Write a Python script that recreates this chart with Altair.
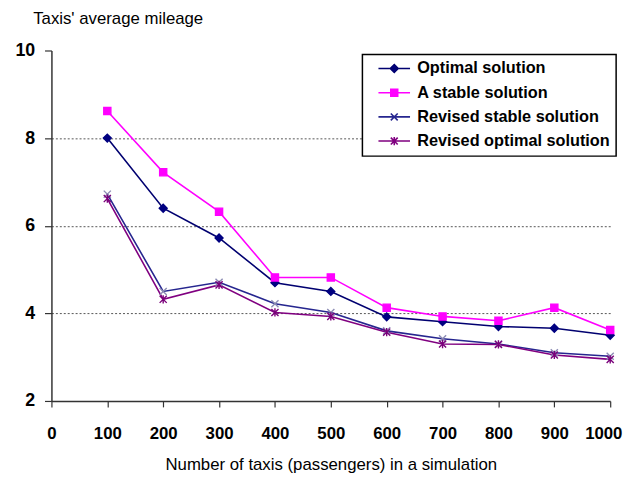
import altair as alt
import pandas as pd

# ---- data ----
x_values = [100, 200, 300, 400, 500, 600, 700, 800, 900, 1000]
series_names = ["Optimal solution", "A stable solution",
                "Revised stable solution", "Revised optimal solution"]
optimal = [8.0, 6.4, 5.72, 4.7, 4.5, 3.92, 3.81, 3.7, 3.66, 3.5]
stable = [8.62, 7.22, 6.32, 4.82, 4.82, 4.13, 3.93, 3.83, 4.13, 3.62]
rev_stable = [6.72, 4.5, 4.71, 4.22, 4.02, 3.6, 3.42, 3.3, 3.1, 3.02]
rev_optimal = [6.62, 4.32, 4.65, 4.02, 3.93, 3.57, 3.3, 3.29, 3.05, 2.95]
x_ticks = [0, 100, 200, 300, 400, 500, 600, 700, 800, 900, 1000]
y_ticks = [2, 4, 6, 8, 10]

# ---- styles ----
line_colors = ["#000070", "#FF00FF", "#26268F", "#800080"]
marker_colors = ["#000080", "#FF00FF", "#8C8CB4", "#7A007A"]
marker_paths = [
    "M0,-1L1,0L0,1L-1,0Z",
    "M-0.9,-0.9H0.9V0.9H-0.9Z",
    "M-0.9,-0.9L0.9,0.9M-0.9,0.9L0.9,-0.9",
    "M-0.9,-0.9L0.9,0.9M-0.9,0.9L0.9,-0.9M0,-1.05V1.05",
]
legend_paths = [
    "M0.4,0H6.8M3.6,-0.8L4.4,0L3.6,0.8L2.8,0Z",
    "M0.4,0H6.8M2.9,-0.7H4.3V0.7H2.9Z",
    "M0.4,0H6.8M2.9,-0.7L4.3,0.7M2.9,0.7L4.3,-0.7",
    "M0.4,0H6.8M2.9,-0.7L4.3,0.7M2.9,0.7L4.3,-0.7M3.6,-0.85V0.85",
]

rows = []
for name, vals in zip(series_names, [optimal, stable, rev_stable, rev_optimal]):
    for xv, yv in zip(x_values, vals):
        rows.append({"series": name, "n": xv, "mileage": yv})
df = pd.DataFrame(rows)

FONT = "Liberation Sans"

x_enc = alt.X(
    "n:Q",
    scale=alt.Scale(domain=[0, 1000], nice=False, zero=False),
    axis=alt.Axis(
        values=x_ticks, format="d", labelOverlap=False, labelFlush=False,
        labelOffset=alt.condition("datum.value == 1000", alt.value(-7), alt.value(0)),
        title="Number of taxis (passengers) in a simulation",
        labelFont=FONT, labelFontSize=17, labelFontWeight="bold", labelColor="black",
        labelPadding=19, tickSize=6, tickColor="#333333", domainColor="#333333",
        domainWidth=1.5, tickWidth=1.2, grid=False,
        titleFont=FONT, titleFontSize=17, titleFontWeight="normal", titleColor="black",
        titleY=69, titleBaseline="alphabetic",
    ),
)
y_enc = alt.Y(
    "mileage:Q",
    scale=alt.Scale(domain=[2, 10], nice=False, zero=False),
    axis=alt.Axis(
        values=y_ticks, title="Taxis' average mileage",
        labelFont=FONT, labelFontSize=18, labelFontWeight="bold", labelColor="black",
        labelPadding=10, tickSize=7, tickColor="#333333", domainColor="#333333",
        domainWidth=1.5, tickWidth=1.2,
        grid=True, gridColor="#555555", gridDash=[2, 2], gridWidth=1,
        gridOpacity=alt.condition("datum.value == 10 || datum.value == 2", alt.value(0), alt.value(1)),
        titleFont=FONT, titleFontSize=17, titleFontWeight="normal", titleColor="black",
        titleAngle=0, titleX=-19, titleY=-27, titleAlign="left", titleBaseline="alphabetic",
    ),
)

lines = alt.Chart(df).mark_line(strokeWidth=1.6).encode(
    x=x_enc, y=y_enc,
    color=alt.Color("series:N", scale=alt.Scale(domain=series_names, range=line_colors), legend=None),
    detail="series:N",
)

points = alt.Chart(df).mark_point(size=64, strokeWidth=1.4, opacity=1).encode(
    x="n:Q", y="mileage:Q",
    shape=alt.Shape("series:N", scale=alt.Scale(domain=series_names, range=marker_paths), legend=None),
    fill=alt.Fill("series:N", scale=alt.Scale(domain=series_names, range=marker_colors), legend=None),
    stroke=alt.Stroke("series:N", scale=alt.Scale(domain=series_names, range=marker_colors), legend=None),
)

legend_layer = alt.Chart(df).transform_filter("false").mark_point(opacity=1).encode(
    x="n:Q", y="mileage:Q",
    shape=alt.Shape("series:N", scale=alt.Scale(domain=series_names, range=legend_paths), title=None),
    fill=alt.Fill("series:N", scale=alt.Scale(domain=series_names, range=marker_colors), title=None),
    stroke=alt.Stroke("series:N", scale=alt.Scale(domain=series_names, range=line_colors), title=None),
)

chart = alt.layer(lines, points, legend_layer).resolve_scale(
    shape="independent", fill="independent", stroke="independent"
).properties(
    width=566, height=355,
    autosize=alt.AutoSizeParams(type="none"),
    padding={"left": 44, "top": 40, "right": 16, "bottom": 76},
).configure_view(stroke=None).configure_legend(
    orient="none", legendX=315, legendY=4,
    strokeColor="black", strokeWidth=1.5, fillColor="white",
    padding=6, rowPadding=7.5, symbolSize=100, symbolStrokeWidth=1.6,
    labelFont=FONT, labelFontSize=16.5, labelFontWeight="bold", labelColor="black",
    labelOffset=33, labelLimit=400,
)

chart.save("out.html", embed_options={"renderer": "svg", "actions": False})
